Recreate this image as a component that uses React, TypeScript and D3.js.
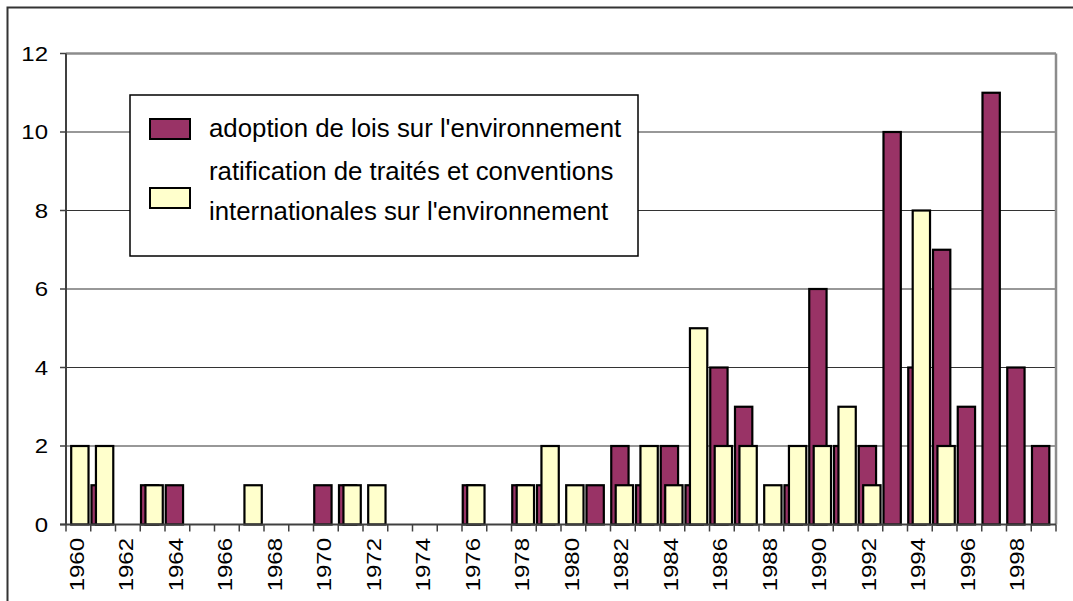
import * as d3 from 'd3'

const years = d3.range(1960, 2000).map(String)
const adoption = [0, 1, 0, 1, 1, 0, 0, 0, 0, 0, 1, 1, 0, 0, 0, 0, 1, 0, 1, 1, 0, 1, 2, 1, 2, 1, 4, 3, 0, 1, 6, 2, 2, 10, 4, 7, 3, 11, 4, 2]
const ratification = [2, 2, 0, 1, 0, 0, 0, 1, 0, 0, 0, 1, 1, 0, 0, 0, 1, 0, 1, 2, 1, 0, 1, 2, 1, 5, 2, 2, 1, 2, 2, 3, 1, 0, 8, 2, 0, 0, 0, 0]
const yTicks = [0, 2, 4, 6, 8, 10, 12]
const legendLines = [
  ['adoption de lois sur l\'environnement'],
  ['ratification de traités et conventions', 'internationales sur l\'environnement'],
]
const colors = ['#993366', '#FFFFCC']

const width = 1073, height = 601
const left = 66, right = 1056, top = 53.5, bottom = 524.5
const font = '"Liberation Sans", Arial, sans-serif'
// axis text in the original is drawn a bit wide
const axisFont = 19.5, axisStretch = 1.23

export default function App() {
  const x = d3.scaleBand().domain(years).range([left, right]).paddingInner(0).paddingOuter(0)
  const y = d3.scaleLinear().domain([0, 12]).range([bottom, top])
  const bw = x.bandwidth()
  const series = [
    { values: adoption, offset: 0.03 },
    { values: ratification, offset: 0.21 },
  ]

  return (
    <svg width={width} height={height} style={{ position: 'absolute', left: 0, top: 0 }} fontFamily={font}>
      <rect x={0} y={0} width={width} height={height} fill="white" />
      <rect x={7.5} y={7.5} width={width + 20} height={height + 20} fill="none" stroke="#333" strokeWidth={2} />

      {/* gridlines */}
      {yTicks.filter(t => t > 0 && t < 12).map(t => (
        <line key={t} x1={left} x2={right} y1={y(t)} y2={y(t)} stroke="#333" strokeWidth={1.2} />
      ))}

      {/* plot border top/right */}
      <line x1={left} x2={right} y1={top} y2={top} stroke="#8c8c8c" strokeWidth={2.5} />
      <line x1={right} x2={right} y1={top} y2={bottom} stroke="#8c8c8c" strokeWidth={2.5} />

      {/* bars */}
      {series.map((s, si) => (
        <g key={si}>
          {s.values.map((v, i) => v > 0 && (
            <rect key={i}
              x={x(years[i])! + s.offset * bw}
              y={y(v)}
              width={0.7 * bw}
              height={y(0) - y(v)}
              fill={colors[si]}
              stroke="#000"
              strokeWidth={2.2} />
          ))}
        </g>
      ))}

      {/* axes */}
      <line x1={left} x2={left} y1={top} y2={bottom} stroke="#404040" strokeWidth={2} />
      <line x1={left - 6} x2={right} y1={bottom} y2={bottom} stroke="#404040" strokeWidth={2} />
      {yTicks.map(t => (
        <g key={t}>
          <line x1={left - 6} x2={left} y1={y(t)} y2={y(t)} stroke="#404040" strokeWidth={1.5} />
          <text transform={`translate(48,${y(t)}) scale(${axisStretch},1)`} dy="0.36em" textAnchor="end" fontSize={axisFont}>{t}</text>
        </g>
      ))}
      {years.map(yr => (
        <line key={yr} x1={x(yr)!} x2={x(yr)!} y1={bottom} y2={bottom + 7} stroke="#404040" strokeWidth={1.5} />
      ))}
      <line x1={right} x2={right} y1={bottom} y2={bottom + 7} stroke="#404040" strokeWidth={1.5} />
      {years.filter((_, i) => i % 2 === 0).map(yr => {
        const cx = x(yr)! + bw / 2
        return (
          <text key={yr} transform={`translate(${cx - 1.5},538) rotate(-90) scale(${axisStretch},1)`} dy="0.36em" textAnchor="end" fontSize={axisFont}>{yr}</text>
        )
      })}

      {/* legend */}
      <rect x={130} y={95} width={508} height={161} fill="white" stroke="#000" strokeWidth={1.5} />
      <rect x={150} y={119} width={40} height={20} fill={colors[0]} stroke="#000" strokeWidth={2} />
      <rect x={150} y={188} width={40} height={20} fill={colors[1]} stroke="#000" strokeWidth={2} />
      <text x={209} y={137} fontSize={25.8}>{legendLines[0][0]}</text>
      <text x={209} y={180} fontSize={25.8}>{legendLines[1][0]}</text>
      <text x={209} y={220} fontSize={25.8}>{legendLines[1][1]}</text>
    </svg>
  )
}
